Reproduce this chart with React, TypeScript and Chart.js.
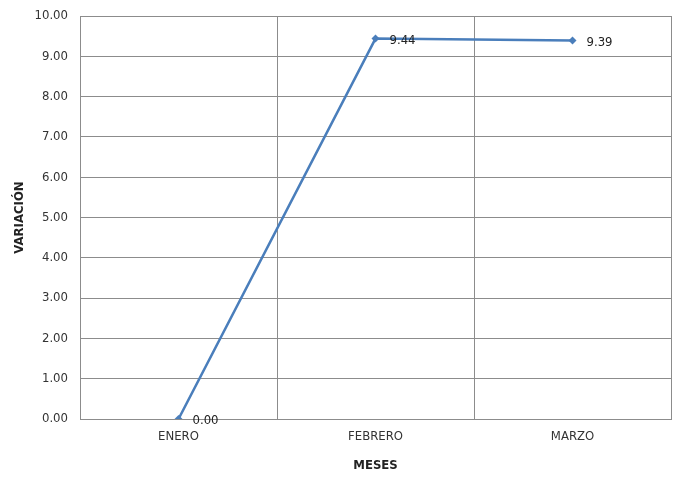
import React, { useEffect, useRef } from "react";
import { Chart, registerables } from "chart.js";

Chart.register(...registerables);

const categories = ["ENERO", "FEBRERO", "MARZO"];
const values = [0.0, 9.44, 9.39];
const yTitle = "VARIACIÓN";
const xTitle = "MESES";

const FONT = "'Liberation Sans Narrow', 'DejaVu Sans Condensed', 'Open Sans', sans-serif";

const labelPlugin = {
  id: "pointLabels",
  afterDatasetsDraw(chart: any) {
    const ctx = chart.ctx;
    const meta = chart.getDatasetMeta(0);
    ctx.save();
    ctx.font = `13px ${FONT}`;
    ctx.fillStyle = "#222";
    ctx.textAlign = "left";
    ctx.textBaseline = "middle";
    meta.data.forEach((pt: any, i: number) => {
      ctx.fillText(values[i].toFixed(2), pt.x + 14, pt.y + 2);
    });
    ctx.restore();
  },
};

export default function App() {
  const ref = useRef<HTMLCanvasElement>(null);
  useEffect(() => {
    document.body.style.margin = "0";
    const chart = new Chart(ref.current!, {
      type: "line",
      data: {
        labels: categories,
        datasets: [
          {
            data: values,
            borderColor: "#4A7EBB",
            backgroundColor: "#4A7EBB",
            borderWidth: 2.5,
            pointStyle: "rectRot",
            pointRadius: 4,
            pointHoverRadius: 4,
            pointBorderWidth: 0,
            pointHoverBorderWidth: 0,
            tension: 0,
          },
        ],
      },
      options: {
        animation: false,
        responsive: false,
        layout: { padding: { top: 16, right: 3, left: 0, bottom: 0 } },
        plugins: { legend: { display: false }, tooltip: { enabled: false } },
        scales: {
          x: {
            offset: true,
            grid: { offset: true, color: "#8c8c8c", drawTicks: false, lineWidth: 1 },
            border: { color: "#8c8c8c" },
            ticks: { color: "#333", font: { family: FONT, size: 13 }, padding: 10 },
            title: {
              display: true,
              text: xTitle,
              color: "#222",
              font: { family: FONT, size: 13, weight: "bold" },
              padding: { top: 6 },
            },
            afterFit: (s: any) => {
              s.height = 58;
              s.paddingLeft = 0;
              s.paddingRight = 0;
            },
          },
          y: {
            min: 0,
            max: 10,
            ticks: {
              stepSize: 1,
              color: "#333",
              font: { family: FONT, size: 13 },
              padding: 12,
              callback: (v: any) => Number(v).toFixed(2),
            },
            grid: { color: "#8c8c8c", drawTicks: false, lineWidth: 1 },
            border: { color: "#8c8c8c" },
            title: {
              display: true,
              text: yTitle,
              color: "#222",
              font: { family: FONT, size: 13, weight: "bold" },
              padding: { top: 12, bottom: 0 },
            },
            afterFit: (s: any) => {
              s.width = 80;
              s.paddingTop = 0;
              s.paddingBottom = 0;
            },
          },
        },
      },
      plugins: [labelPlugin],
    } as any);
    return () => chart.destroy();
  }, []);
  return (
    <div style={{ width: 675, height: 477 }}>
      <canvas ref={ref} width={675} height={477} />
    </div>
  );
}
